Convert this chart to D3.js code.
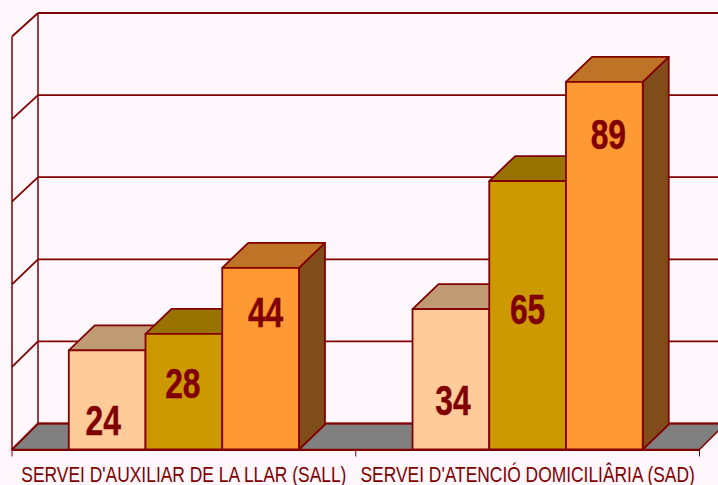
<!DOCTYPE html>
<html lang="en">
<head>
  <meta charset="UTF-8" />
  <title>Serveis</title>
  <script src="https://d3js.org/d3.v7.min.js"></script>
  <style>
    html, body { margin: 0; padding: 0; background: #fff7fb; overflow: hidden; }
    svg { display: block; }
    .tick-label { font-family: "Liberation Sans", sans-serif; font-size: 21.5px; fill: #800000; text-anchor: middle; }
    .value-label { font-family: "Liberation Sans", sans-serif; font-size: 43px; font-weight: bold; fill: #800000; stroke: #800000; stroke-width: 0.4; text-anchor: middle; }
  </style>
</head>
<body>
<div id="chart"></div>
<script>
const categories = ["SERVEI D'AUXILIAR DE LA LLAR (SALL)", "SERVEI D'ATENCIÓ DOMICILIÂRIA (SAD)"];
const seriesNames = ["a", "b", "c"];
const seriesValues = [
  [24, 34],
  [28, 65],
  [44, 89]
];
const yTicks = [0, 20, 40, 60, 80, 100];

// colours per series: front, top, side
const frontColors = ["#ffcc99", "#cc9900", "#ff9933"];
const topColors = ["#c09a73", "#997300", "#bf7326"];
const sideColors = ["#805033", "#665000", "#804d1a"];

// hand placed labels in the original, px from bar centre / bar top
const labelDx = [[-4, 2], [-1, 0], [5, 4]];
const labelDy = [[85, 106], [64, 143], [59, 67]];

const W = 718, H = 485, depthX = 26, depthY = 25;
const line = "#800000";
const narrowTick = 0.81, narrowValue = 0.74;

const svg = d3.select("#chart").append("svg").attr("width", W).attr("height", H);

const x0 = d3.scaleBand().domain(categories).range([12, 699.5]);
const x1 = d3.scaleBand().domain(seriesNames).range([0, x0.bandwidth()]).paddingOuter(0.74).paddingInner(0);
const y = d3.scaleLinear().domain([0, 100]).range([449.5, 36.5]);
const yBack = d3.scaleLinear().domain([0, 100]).range([423.5, 13]);

const base = y(0), backBase = yBack(0);
const left = x0.range()[0], right = x0.range()[1];

// floor
svg.append("path")
  .attr("d", `M${left},${base}L${left + depthX},${backBase}L${right + depthX},${backBase}L${right},${base}Z`)
  .attr("fill", "#808080")
  .attr("stroke", line).attr("stroke-width", 1.5);

// grid, back wall + left wall
yTicks.forEach(t => {
  svg.append("line")
    .attr("x1", left + depthX).attr("x2", right + depthX)
    .attr("y1", yBack(t)).attr("y2", yBack(t))
    .attr("stroke", line).attr("stroke-width", 1.8);
  svg.append("line")
    .attr("x1", left).attr("x2", left + depthX)
    .attr("y1", y(t)).attr("y2", yBack(t))
    .attr("stroke", line).attr("stroke-width", 1.8);
});
svg.append("line")
  .attr("x1", left + depthX).attr("x2", left + depthX)
  .attr("y1", yBack(100)).attr("y2", backBase)
  .attr("stroke", line).attr("stroke-width", 1.5);
svg.append("line")
  .attr("x1", left).attr("x2", left)
  .attr("y1", y(100)).attr("y2", base)
  .attr("stroke", line).attr("stroke-width", 1.5);

// bars
const bars = svg.append("g").attr("stroke", line).attr("stroke-width", 1.8).attr("stroke-linejoin", "round");
categories.forEach((cat, c) => {
  seriesNames.forEach((s, i) => {
    const v = seriesValues[i][c];
    const xa = x0(cat) + x1(s), xb = xa + x1.bandwidth(), yt = y(v);
    bars.append("path")
      .attr("d", `M${xb},${base}L${xb + depthX},${base - depthY}L${xb + depthX},${yt - depthY}L${xb},${yt}Z`)
      .attr("fill", sideColors[i]);
    bars.append("path")
      .attr("d", `M${xa},${yt}L${xa + depthX},${yt - depthY}L${xb + depthX},${yt - depthY}L${xb},${yt}Z`)
      .attr("fill", topColors[i]);
    bars.append("rect")
      .attr("x", xa).attr("y", yt).attr("width", xb - xa).attr("height", base - yt)
      .attr("fill", frontColors[i]);
  });
});

// value labels on top of everything
categories.forEach((cat, c) => {
  seriesNames.forEach((s, i) => {
    const v = seriesValues[i][c];
    const lx = x0(cat) + x1(s) + x1.bandwidth() / 2 + labelDx[i][c];
    svg.append("text")
      .attr("class", "value-label")
      .attr("transform", `translate(${lx},${y(v) + labelDy[i][c]}) scale(${narrowValue},1)`)
      .text(v);
  });
});

// x axis
const axis = d3.axisBottom(x0).tickSize(0).tickFormat("");
const ax = svg.append("g").attr("transform", `translate(0,${base})`).call(axis);
ax.select(".domain").attr("stroke", line).attr("stroke-width", 2);
ax.selectAll(".sep").data([left, (left + right) / 2, right]).join("line")
  .attr("class", "sep")
  .attr("x1", d => d).attr("x2", d => d)
  .attr("y1", 0).attr("y2", 7)
  .attr("stroke", line).attr("stroke-width", 1);
ax.selectAll(".tick text").remove();
// no narrow font installed, so squeeze the labels horizontally
ax.selectAll(".cat").data(categories).join("text")
  .attr("class", "cat tick-label")
  .attr("transform", d => `translate(${x0(d) + x0.bandwidth() / 2},32) scale(${narrowTick},1)`)
  .text(d => d);
</script>
</body>
</html>
